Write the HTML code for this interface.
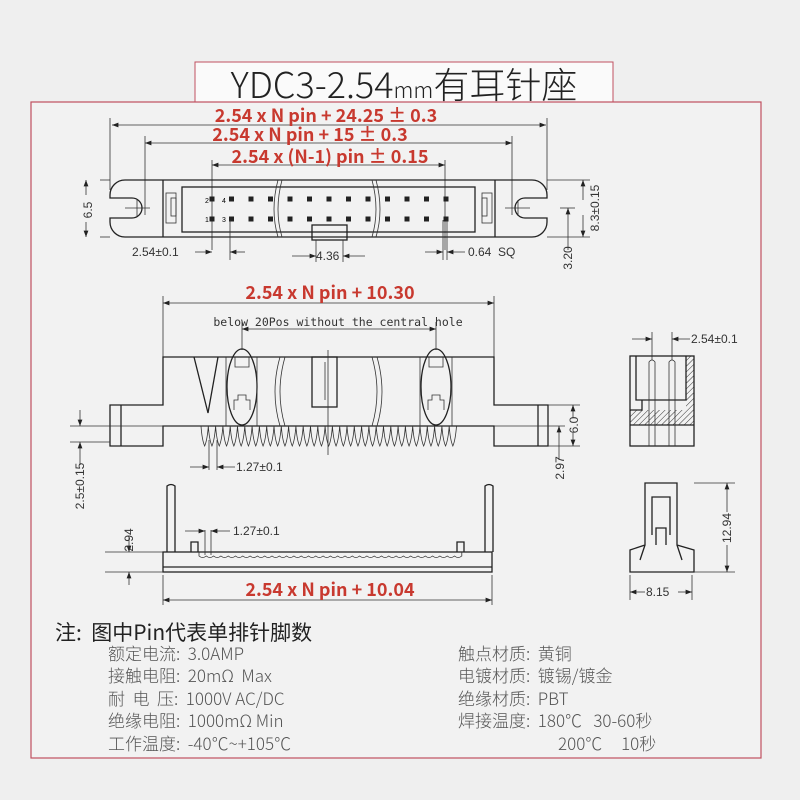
<!DOCTYPE html>
<html><head><meta charset="utf-8"><style>
html,body{margin:0;padding:0;background:#efefef;}
svg{display:block;font-family:"Liberation Sans","Noto Sans CJK SC",sans-serif;}
svg text{white-space:pre;}
.r{fill:#c8392f;font-weight:bold;font-size:18px;text-anchor:middle;font-family:"Noto Sans CJK SC","Liberation Sans",sans-serif;}
.d{font-size:12px;fill:#333;}
.l{stroke:#222;stroke-width:1.3;fill:none;}
.t{stroke:#333;stroke-width:0.8;fill:none;}
.cn{font-size:17px;fill:#555;}
</style></head><body>
<svg id="s" width="800" height="800" viewBox="0 0 800 800">
<defs>
<pattern id="h" width="4" height="4" patternUnits="userSpaceOnUse" patternTransform="rotate(45)"><line x1="0" y1="0" x2="0" y2="4" stroke="#333" stroke-width="1"/></pattern>
<marker id="a" markerWidth="8" markerHeight="6" refX="8" refY="3" orient="auto-start-reverse"><path d="M0,0L8,3L0,6z" fill="#222"/></marker>
</defs>
<rect x="0" y="0" width="800" height="800" fill="#efefef"/>
<rect x="195" y="62" width="418" height="40" fill="#fafafa" stroke="#c05060" stroke-width="1"/>
<text x="404" y="98" font-size="36" text-anchor="middle" fill="#222" style="font-family:'Noto Sans CJK SC',sans-serif;font-weight:300">YDC3-2.54<tspan font-size="22">mm</tspan>有耳针座</text>
<rect x="31" y="102" width="730" height="656" fill="#f2f2f2" stroke="#c05060" stroke-width="1.2"/>

<g class="t" marker-start="url(#a)" marker-end="url(#a)">
<line x1="112" y1="125" x2="546" y2="125"/>
<line x1="145" y1="143" x2="512" y2="143"/>
<line x1="212" y1="165" x2="445" y2="165"/>
</g>
<g class="t">
<line x1="110" y1="118" x2="110" y2="190"/><line x1="547" y1="118" x2="547" y2="190"/>
<line x1="145" y1="136" x2="145" y2="215"/><line x1="512" y1="136" x2="512" y2="215"/>
<line x1="212" y1="160" x2="212" y2="250"/><line x1="445" y1="160" x2="445" y2="250"/>
</g>
<text class="r" x="326" y="122">2.54 x N pin + 24.25 ± 0.3</text>
<text class="r" x="310" y="141">2.54 x N pin + 15 ± 0.3</text>
<text class="r" x="330" y="163">2.54 x (N-1) pin ± 0.15</text>
<path class="l" d="M125,180 H532 A15,15 0 0 1 547,195 V198 H525 A10,10 0 0 0 525,218 H547 V222 A15,15 0 0 1 532,237 H125 A15,15 0 0 1 110,222 V218 H132 A10,10 0 0 0 132,198 H110 V195 A15,15 0 0 1 125,180Z"/>
<line class="l" x1="163" y1="180" x2="163" y2="237"/><line class="l" x1="495" y1="180" x2="495" y2="237"/>
<rect class="l" x="182" y="187" width="293" height="45"/>
<rect class="t" x="166" y="193" width="10" height="30"/><rect class="t" x="171" y="198" width="5" height="18"/>
<rect class="t" x="482" y="193" width="10" height="30"/><rect class="t" x="482" y="198" width="5" height="18"/>
<path class="t" d="M278,180 q-8,30 0,57 M282,180 q-8,30 0,57 M372,180 q8,30 0,57 M376,180 q8,30 0,57"/>
<rect class="l" x="312" y="225" width="35" height="15"/>
<line class="t" x1="125" y1="208" x2="150" y2="208"/><line class="t" x1="137" y1="200" x2="137" y2="216"/>
<line class="t" x1="505" y1="208" x2="530" y2="208"/><line class="t" x1="518" y1="200" x2="518" y2="216"/>
<g id="pins"></g>
<text x="205" y="203" font-size="7">2</text><text x="205" y="222" font-size="7">1</text>
<text x="222" y="203" font-size="7">4</text><text x="222" y="222" font-size="7">3</text>
<g class="t"><line x1="230" y1="220" x2="230" y2="260"/><line x1="316" y1="240" x2="316" y2="262"/><line x1="343" y1="240" x2="343" y2="262"/><line x1="443" y1="220" x2="443" y2="260"/><line x1="447" y1="220" x2="447" y2="260"/>
<line x1="100" y1="180" x2="110" y2="180"/><line x1="100" y1="237" x2="110" y2="237"/>
<line x1="547" y1="180" x2="590" y2="180"/><line x1="547" y1="237" x2="590" y2="237"/><line x1="560" y1="208" x2="575" y2="208"/></g>
<g class="t" marker-end="url(#a)">
<line x1="195" y1="252" x2="212" y2="252"/><line x1="245" y1="252" x2="230" y2="252"/>
<line x1="292" y1="256" x2="316" y2="256"/><line x1="365" y1="256" x2="343" y2="256"/>
<line x1="425" y1="252" x2="443" y2="252"/><line x1="465" y1="252" x2="447" y2="252"/>
<line x1="86" y1="195" x2="86" y2="180"/><line x1="86" y1="222" x2="86" y2="237"/>
<line x1="583" y1="200" x2="583" y2="180"/><line x1="583" y1="215" x2="583" y2="237"/>
<line x1="568" y1="250" x2="568" y2="208"/>
</g>
<text class="d" x="132" y="256">2.54±0.1</text>
<text class="d" x="316" y="260">4.36</text>
<text class="d" x="468" y="256">0.64  SQ</text>
<text class="d" transform="translate(92,210) rotate(-90)" text-anchor="middle">6.5</text>
<text class="d" transform="translate(599,208) rotate(-90)" text-anchor="middle">8.3±0.15</text>
<text class="d" transform="translate(572,258) rotate(-90)" text-anchor="middle">3.20</text>

<line class="t" x1="163" y1="303" x2="494" y2="303" marker-start="url(#a)" marker-end="url(#a)"/>
<line class="t" x1="163" y1="296" x2="163" y2="357"/><line class="t" x1="494" y1="296" x2="494" y2="357"/>
<text class="r" x="330" y="299">2.54 x N pin + 10.30</text>
<text x="338" y="326" font-size="11.5" text-anchor="middle" fill="#333" style="font-family:'DejaVu Sans Mono',monospace">below 20Pos without the central hole</text>
<line class="t" x1="242" y1="329" x2="436" y2="329" marker-start="url(#a)" marker-end="url(#a)"/>
<line class="t" x1="242" y1="322" x2="242" y2="350"/><line class="t" x1="436" y1="322" x2="436" y2="350"/>
<path class="l" d="M163,357 H494 V405 H548 V446 H494 V426 H163 V446 H110 V405 H163Z"/>
<line class="l" x1="121" y1="405" x2="121" y2="446"/><line class="l" x1="538" y1="405" x2="538" y2="446"/>
<ellipse class="l" cx="242" cy="387" rx="15" ry="38"/><ellipse class="l" cx="436" cy="387" rx="15" ry="38"/>
<path class="t" d="M235,357 v10 h14 v-10 M429,357 v10 h14 v-10 M234,410 v-10 h4 v-5 h8 v5 h4 v10 M428,410 v-10 h4 v-5 h8 v5 h4 v10"/>
<line class="t" x1="226" y1="357" x2="226" y2="426"/><line class="t" x1="257" y1="357" x2="257" y2="426"/>
<line class="t" x1="420" y1="357" x2="420" y2="426"/><line class="t" x1="452" y1="357" x2="452" y2="426"/>
<path class="l" d="M194,357 L208,413 L218,357"/>
<path class="t" d="M280,357 q-10,35 0,69 M285,357 q-10,35 0,69 M372,357 q10,35 0,69 M377,357 q10,35 0,69"/>
<rect class="l" x="312" y="357" width="25" height="50"/>
<line class="t" x1="328" y1="350" x2="328" y2="455"/><line class="t" x1="325" y1="362" x2="325" y2="400"/>
<path id="teeth" class="t" d=""/>
<g class="t"><line x1="70" y1="426" x2="210" y2="426"/><line x1="70" y1="442" x2="110" y2="442"/><line x1="548" y1="446" x2="580" y2="446"/><line x1="548" y1="405" x2="580" y2="405"/><line x1="494" y1="426" x2="565" y2="426"/><line x1="209" y1="440" x2="209" y2="470"/><line x1="217" y1="440" x2="217" y2="470"/></g>
<g class="t" marker-end="url(#a)"><line x1="80" y1="410" x2="80" y2="426"/><line x1="80" y1="465" x2="80" y2="442"/><line x1="190" y1="467" x2="209" y2="467"/><line x1="235" y1="467" x2="217" y2="467"/><line x1="573" y1="418" x2="573" y2="405"/><line x1="573" y1="433" x2="573" y2="446"/><line x1="559" y1="460" x2="559" y2="426"/></g>
<text class="d" x="236" y="471">1.27±0.1</text>
<text class="d" transform="translate(84,486) rotate(-90)" text-anchor="middle">2.5±0.15</text>
<text class="d" transform="translate(578,425) rotate(-90)" text-anchor="middle">6.0</text>
<text class="d" transform="translate(564,468) rotate(-90)" text-anchor="middle">2.97</text>

<rect class="l" x="163" y="552" width="329" height="20"/>
<line class="l" x1="163" y1="567" x2="492" y2="567"/>
<path class="l" d="M167,552 V486 q4,-3 8,0 V552 M485,552 V486 q4,-3 8,0 V552 M191,552 v-10 h7 v10 M457,552 v-10 h7 v10"/>
<path id="wave" class="t" d=""/>
<g class="t"><line x1="105" y1="552" x2="163" y2="552"/><line x1="105" y1="572" x2="163" y2="572"/><line x1="205" y1="530" x2="205" y2="555"/><line x1="211" y1="530" x2="211" y2="555"/><line x1="163" y1="575" x2="163" y2="605"/><line x1="492" y1="575" x2="492" y2="605"/></g>
<g class="t" marker-end="url(#a)"><line x1="129" y1="537" x2="129" y2="552"/><line x1="129" y1="585" x2="129" y2="572"/><line x1="185" y1="531" x2="205" y2="531"/><line x1="230" y1="531" x2="211" y2="531"/></g>
<line class="t" x1="163" y1="600" x2="492" y2="600" marker-start="url(#a)" marker-end="url(#a)"/>
<text class="d" x="233" y="535">1.27±0.1</text>
<text class="d" transform="translate(133,540) rotate(-90)" text-anchor="middle">2.94</text>
<text class="r" x="330" y="596">2.54 x N pin + 10.04</text>

<g class="t"><line x1="652" y1="332" x2="652" y2="360"/><line x1="672" y1="332" x2="672" y2="360"/></g>
<g class="t" marker-end="url(#a)"><line x1="632" y1="339" x2="652" y2="339"/><line x1="690" y1="339" x2="672" y2="339"/></g>
<text class="d" x="691" y="343">2.54±0.1</text>
<rect x="630" y="410" width="64" height="15" fill="url(#h)"/>
<rect x="686" y="356" width="8" height="54" fill="url(#h)"/>
<rect class="l" x="630" y="356" width="64" height="90"/>
<path class="l" d="M636,356 V400 H686 V356 M630,425 H694 M630,410 H642 V400"/>
<path class="t" d="M649,446 V362 q3,-4 6,0 V446 M669,446 V362 q3,-4 6,0 V446"/>
<path class="l" d="M645,483 V545 L630,550 V572 H694 V550 L677,545 V483Z M652,535 V497 H670 V535 M656,545 V528 H666 V545 M645,545 L640,560 M677,545 L682,560"/>
<g class="t"><line x1="694" y1="483" x2="735" y2="483"/><line x1="694" y1="572" x2="735" y2="572"/><line x1="630" y1="575" x2="630" y2="600"/><line x1="692" y1="575" x2="692" y2="600"/></g>
<g class="t" marker-end="url(#a)"><line x1="727" y1="512" x2="727" y2="483"/><line x1="727" y1="545" x2="727" y2="572"/><line x1="645" y1="592" x2="630" y2="592"/><line x1="678" y1="592" x2="692" y2="592"/></g>
<text class="d" transform="translate(731,528) rotate(-90)" text-anchor="middle">12.94</text>
<text class="d" x="646" y="596">8.15</text>

<text x="55" y="640" font-size="21" fill="#222" style="font-family:'Noto Sans CJK SC',sans-serif">注:  图中Pin代表单排针脚数</text>
<g class="cn" style="font-family:'Noto Sans CJK SC',sans-serif;font-weight:300">
<text x="108" y="660">额定电流:  3.0AMP</text>
<text x="108" y="682">接触电阻:  20mΩ  Max</text>
<text x="108" y="705">耐  电  压:  1000V AC/DC</text>
<text x="108" y="727">绝缘电阻:  1000mΩ Min</text>
<text x="108" y="750">工作温度:  -40℃~+105℃</text>
<text x="458" y="660">触点材质:  黄铜</text>
<text x="458" y="682">电镀材质:  镀锡/镀金</text>
<text x="458" y="705">绝缘材质:  PBT</text>
<text x="458" y="727">焊接温度:  180℃   30-60秒</text>
<text x="558" y="750">200℃     10秒</text>
</g>
</svg>
<script>
var ns="http://www.w3.org/2000/svg",g=document.getElementById("pins");
for(var i=0;i<13;i++){var x=212+i*19.5;[199,219].forEach(function(y){var r=document.createElementNS(ns,"rect");r.setAttribute("x",x-2.5);r.setAttribute("y",y-2.5);r.setAttribute("width",5);r.setAttribute("height",5);r.setAttribute("fill","#222");g.appendChild(r);});}
var d="";for(var x=201;x<455;x+=7.3){d+="M"+x.toFixed(1)+",426 q1,14 3.65,20 q2.6,-6 3.65,-20 ";}
document.getElementById("teeth").setAttribute("d",d);
var w="M199,552 V556 ";for(var x=199;x<457;x+=7.3){w+="q3.6,3 7.3,0 ";}w+="V552";
document.getElementById("wave").setAttribute("d",w);
</script>
</body></html>
